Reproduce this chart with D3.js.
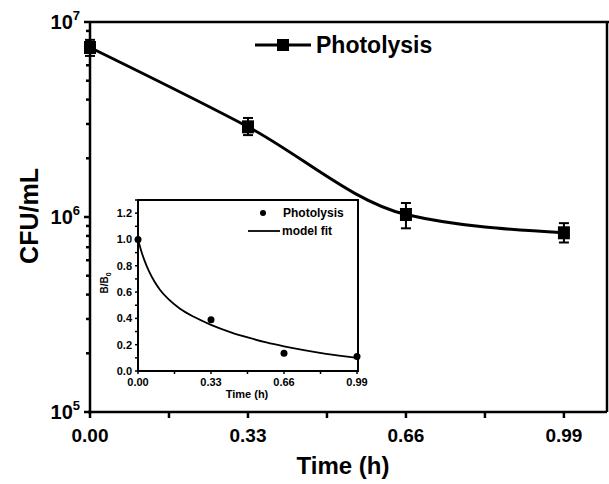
<!DOCTYPE html>
<html><head><meta charset="utf-8">
<script src="https://cdn.jsdelivr.net/npm/d3@7"></script>
<style>
body{margin:0;background:#fff;}
svg text{font-family:"Liberation Sans",Arial,sans-serif;font-weight:bold;fill:#000;}
</style></head>
<body><svg id="c" width="609" height="484"></svg>
<script>
// ---- data ----
const mainTimes = [0, 0.33, 0.66, 0.99];
const mainCFU = [7.4e6, 2.9e6, 1.03e6, 8.3e5];
const mainErrLo = [6.7e6, 2.63e6, 8.75e5, 7.4e5];
const mainErrHi = [8.1e6, 3.22e6, 1.18e6, 9.3e5];
const mainXTicks = [0, 0.33, 0.66, 0.99];
const mainYTicks = [5, 6, 7]; // exponents
const insetTimes = [0, 0.33, 0.66, 0.99];
const insetRatio = [1.0, 0.39, 0.135, 0.11];
const fitTimes = [0, 0.015, 0.03, 0.05, 0.075, 0.1, 0.14, 0.19, 0.25, 0.33, 0.42, 0.5, 0.58, 0.66, 0.75, 0.85, 0.99];
const fitRatio = [1.0, 0.911, 0.837, 0.757, 0.678, 0.616, 0.542, 0.474, 0.414, 0.351, 0.294, 0.253, 0.217, 0.187, 0.158, 0.130, 0.100];
const insetXTicks = [0, 0.33, 0.66, 0.99];
const insetYTicks = [0, 0.2, 0.4, 0.6, 0.8, 1.0, 1.2];

const svg = d3.select("#c");
const x = d3.scaleLinear().domain([0, 1.08]).range([90, 607]);
const y = d3.scaleLog().domain([1e5, 1e7]).range([412, 22]);

// frame
svg.append("line").attr("x1",90).attr("x2",609).attr("y1",22).attr("y2",22).attr("stroke","#000").attr("stroke-width",2.5);
svg.append("line").attr("x1",607).attr("x2",607).attr("y1",22).attr("y2",412).attr("stroke","#000").attr("stroke-width",2.5);

// x axis
const xAxis = svg.append("g").attr("transform","translate(0,412)");
xAxis.append("line").attr("x1",88).attr("x2",607).attr("stroke","#000").attr("stroke-width",2.5);
const xMinor = d3.range(0, 1.0, 0.165);
xAxis.selectAll("line.t").data(xMinor).join("line").attr("class","t")
  .attr("x1",d=>x(d)).attr("x2",d=>x(d)).attr("y1",0).attr("y2",6).attr("stroke","#000").attr("stroke-width",2.5);
xAxis.selectAll("text").data(mainXTicks).join("text")
  .attr("x",d=>x(d)).attr("y",30).attr("text-anchor","middle").attr("font-size",19).text(d=>d3.format(".2f")(d));
svg.append("text").attr("x",343).attr("y",474).attr("text-anchor","middle").attr("font-size",24).text("Time (h)");

// y axis
const yAxis = svg.append("g").attr("transform","translate(90,0)");
yAxis.append("line").attr("y1",22).attr("y2",414).attr("stroke","#000").attr("stroke-width",2.5);
const yMinor = [];
[1e5,1e6].forEach(b=>{for(let k=2;k<=9;k++) yMinor.push(b*k);});
yAxis.selectAll("line.m").data(yMinor).join("line").attr("class","m")
  .attr("x1",-4).attr("x2",0).attr("y1",d=>y(d)).attr("y2",d=>y(d)).attr("stroke","#000").attr("stroke-width",2.5);
yAxis.selectAll("line.M").data(mainYTicks).join("line").attr("class","M")
  .attr("x1",-6).attr("x2",0).attr("y1",d=>y(Math.pow(10,d))).attr("y2",d=>y(Math.pow(10,d))).attr("stroke","#000").attr("stroke-width",2.5);
const yl = yAxis.selectAll("text").data(mainYTicks).join("text")
  .attr("x",-10).attr("y",d=>y(Math.pow(10,d))+7).attr("text-anchor","end").attr("font-size",20);
yl.append("tspan").text("10");
yl.append("tspan").attr("dy",-9).attr("font-size",13).text(d=>d);
svg.append("text").attr("transform","translate(38,216) rotate(-90)").attr("text-anchor","middle").attr("font-size",25).text("CFU/mL");

// main curve
const mainData = mainTimes.map((t,i)=>({t, v:mainCFU[i], lo:mainErrLo[i], hi:mainErrHi[i]}));
svg.append("path").datum(mainData)
  .attr("d", d3.line().x(d=>x(d.t)).y(d=>y(d.v)).curve(d3.curveMonotoneX))
  .attr("fill","none").attr("stroke","#000").attr("stroke-width",3);
const eb = svg.append("g");
mainData.forEach(d=>{
  eb.append("line").attr("x1",x(d.t)).attr("x2",x(d.t)).attr("y1",y(d.lo)).attr("y2",y(d.hi)).attr("stroke","#000").attr("stroke-width",2);
  [d.lo,d.hi].forEach(v=>eb.append("line").attr("x1",x(d.t)-5).attr("x2",x(d.t)+5).attr("y1",y(v)).attr("y2",y(v)).attr("stroke","#000").attr("stroke-width",2));
  eb.append("rect").attr("x",x(d.t)-6).attr("y",y(d.v)-6.5).attr("width",12).attr("height",13).attr("fill","#000");
});

// main legend
svg.append("line").attr("x1",255).attr("x2",311).attr("y1",45).attr("y2",45).attr("stroke","#000").attr("stroke-width",3);
svg.append("rect").attr("x",277).attr("y",39).attr("width",12).attr("height",12).attr("fill","#000");
svg.append("text").attr("x",316).attr("y",53).attr("font-size",23).text("Photolysis");

// ---- inset ----
const ix = d3.scaleLinear().domain([0, 0.99]).range([138, 357]);
const iy = d3.scaleLinear().domain([0, 1.3]).range([371, 200]);
svg.append("rect").attr("x",138).attr("y",200).attr("width",220).attr("height",171).attr("fill","#fff").attr("stroke","#000").attr("stroke-width",2);
const ig = svg.append("g");
const ixMinor = d3.range(0, 1.0, 0.165);
ig.selectAll("line.xt").data(ixMinor).join("line").attr("class","xt")
  .attr("x1",d=>ix(d)).attr("x2",d=>ix(d)).attr("y1",371).attr("y2",374).attr("stroke","#000").attr("stroke-width",1.5);
ig.selectAll("text.xl").data(insetXTicks).join("text").attr("class","xl")
  .attr("x",d=>ix(d)).attr("y",386).attr("text-anchor","middle").attr("font-size",11).text(d=>d3.format(".2f")(d));
const iyMinor = d3.range(0, 1.31, 0.1);
ig.selectAll("line.yt").data(iyMinor).join("line").attr("class","yt")
  .attr("x1",135).attr("x2",138).attr("y1",d=>iy(d)).attr("y2",d=>iy(d)).attr("stroke","#000").attr("stroke-width",1.5);
ig.selectAll("text.yl").data(insetYTicks).join("text").attr("class","yl")
  .attr("x",132).attr("y",d=>iy(d)+4).attr("text-anchor","end").attr("font-size",11).text(d=>d3.format(".1f")(d));
const bl = ig.append("text").attr("transform","translate(108,283) rotate(-90)").attr("text-anchor","middle").attr("font-size",10);
bl.append("tspan").text("B/B");
bl.append("tspan").attr("dy",3).attr("font-size",7).text("0");
ig.append("text").attr("x",247).attr("y",398).attr("text-anchor","middle").attr("font-size",11).text("Time (h)");

ig.append("path").datum(fitTimes.map((t,i)=>[t,fitRatio[i]]))
  .attr("d", d3.line().x(d=>ix(d[0])).y(d=>iy(d[1])).curve(d3.curveMonotoneX))
  .attr("fill","none").attr("stroke","#000").attr("stroke-width",1.8);
ig.selectAll("circle").data(insetTimes.map((t,i)=>[t,insetRatio[i]])).join("circle")
  .attr("cx",d=>ix(d[0])).attr("cy",d=>iy(d[1])).attr("r",3.5).attr("fill","#000");

// inset legend
ig.append("circle").attr("cx",263).attr("cy",213).attr("r",3).attr("fill","#000");
ig.append("text").attr("x",283).attr("y",217).attr("font-size",12).text("Photolysis");
ig.append("line").attr("x1",248).attr("x2",280).attr("y1",231).attr("y2",231).attr("stroke","#000").attr("stroke-width",1.8);
ig.append("text").attr("x",282).attr("y",235).attr("font-size",12).text("model fit");
</script></body></html>
